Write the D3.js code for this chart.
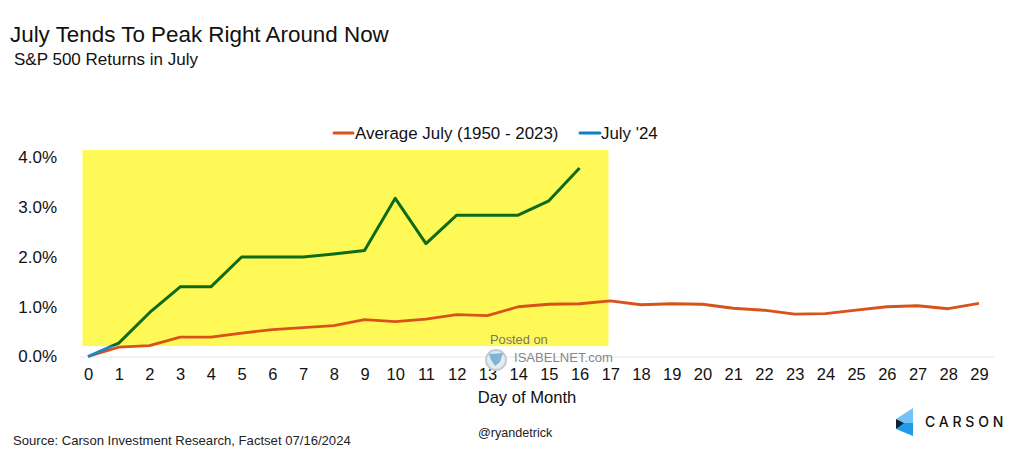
<!DOCTYPE html>
<html>
<head>
<meta charset="utf-8">
<script src="https://cdnjs.cloudflare.com/ajax/libs/d3/7.8.5/d3.min.js"></script>
<style>
  html, body { margin: 0; padding: 0; background: #fff; }
  text { font-family: "Liberation Sans", Arial, sans-serif; fill: #111; }
</style>
</head>
<body>
<div id="visualization"></div>
<script>
// Values (percent return by day of month).
const days = d3.range(0, 30);
const averageJuly = [0, 0.19, 0.22, 0.39, 0.39, 0.47, 0.54, 0.58, 0.62, 0.74, 0.70, 0.75, 0.84, 0.82, 1.00,
  1.05, 1.06, 1.12, 1.04, 1.06, 1.05, 0.97, 0.93, 0.85, 0.86, 0.93, 1.00, 1.02, 0.96, 1.07];
const july24 = [0, 0.27, 0.88, 1.40, 1.40, 2.00, 2.00, 2.00, 2.06, 2.13, 3.18, 2.27, 2.84, 2.84, 2.84, 3.13, 3.79];
const yTicks = [0, 1, 2, 3, 4];
const highlightDays = [-0.18, 16.94];
const highlightValues = [0.21, 4.15];

const totalWidth = 1024;
const totalHeight = 470;

const svg = d3.select("#visualization")
  .append("svg")
  .attr("width", totalWidth)
  .attr("height", totalHeight)
  .style("display", "block");

// Scales
const x = d3.scaleLinear().domain([0, 29]).range([88, 979]);
const y = d3.scaleLinear().domain([0, 4]).range([356.5, 157.5]);

const line = d3.line().x((d, i) => x(i)).y(d => y(d));

// Titles
svg.append("text").attr("x", 10).attr("y", 42).style("font-size", "22.4px").text("July Tends To Peak Right Around Now");
svg.append("text").attr("x", 14).attr("y", 65).style("font-size", "17px").text("S&P 500 Returns in July");

// Yellow highlight box
const boxX = x(highlightDays[0]), boxW = x(highlightDays[1]) - boxX;
const boxY = y(highlightValues[1]), boxH = y(highlightValues[0]) - boxY;
svg.append("rect")
  .attr("x", boxX).attr("y", boxY).attr("width", boxW).attr("height", boxH)
  .attr("fill", "#fff957");

// The July '24 line turns green where it crosses the highlight, blue outside it
const defs = svg.append("defs");
defs.append("clipPath").attr("id", "inBox").append("rect")
  .attr("x", boxX).attr("y", boxY).attr("width", boxW).attr("height", boxH);
defs.append("clipPath").attr("id", "outBox").append("rect")
  .attr("x", 0).attr("y", boxY + boxH).attr("width", totalWidth).attr("height", totalHeight);

// Axes
const xAxis = svg.append("g")
  .attr("transform", `translate(0, ${y(0)})`)
  .call(d3.axisBottom(x).tickValues(days).tickFormat(d3.format("d")).tickSize(0).tickPadding(12));
xAxis.select(".domain").attr("stroke", "#e6e6e6").attr("d", "M80,0.5H994");
xAxis.selectAll("text").style("font-size", "16.5px").style("font-family", "'Liberation Sans', Arial, sans-serif").attr("fill", "#111");

const yAxis = svg.append("g")
  .attr("transform", "translate(57, 0)")
  .call(d3.axisLeft(y).tickValues(yTicks).tickFormat(d => d.toFixed(1) + "%").tickSize(0).tickPadding(0));
yAxis.select(".domain").remove();
yAxis.selectAll("text").style("font-size", "17px").style("font-family", "'Liberation Sans', Arial, sans-serif").attr("fill", "#111");

svg.append("text").attr("x", 527).attr("y", 403).attr("text-anchor", "middle").style("font-size", "16.6px").text("Day of Month");

// Lines
svg.append("path").datum(averageJuly).attr("d", line)
  .attr("fill", "none").attr("stroke", "#d8531a").attr("stroke-width", 2.8).attr("stroke-linejoin", "round");
svg.append("path").datum(july24).attr("d", line).attr("clip-path", "url(#inBox)")
  .attr("fill", "none").attr("stroke", "#0f6b16").attr("stroke-width", 3).attr("stroke-linejoin", "round");
svg.append("path").datum(july24).attr("d", line).attr("clip-path", "url(#outBox)")
  .attr("fill", "none").attr("stroke", "#1a86c4").attr("stroke-width", 3);

// Legend
const legendItems = [
  {label: "Average July (1950 - 2023)", color: "#d8531a", x1: 334, x2: 353, tx: 355},
  {label: "July '24", color: "#0a82c6", x1: 580, x2: 600, tx: 601}
];
const legend = svg.append("g").selectAll("g").data(legendItems).join("g");
legend.append("line").attr("x1", d => d.x1).attr("x2", d => d.x2).attr("y1", 133).attr("y2", 133)
  .attr("stroke", d => d.color).attr("stroke-width", 3).attr("stroke-linecap", "round");
legend.append("text").attr("x", d => d.tx).attr("y", 139).style("font-size", "16.9px").text(d => d.label);

// Watermark
svg.append("text").attr("x", 490).attr("y", 344).style("font-size", "12.8px").style("fill", "#77776a").text("Posted on");
svg.append("circle").attr("cx", 496).attr("cy", 360).attr("r", 10).attr("fill", "#e6ebee").attr("stroke", "#c4ccd2").attr("stroke-width", 2);
svg.append("path").attr("d", "M489,354L503,353L500,362L495,366L491,360Z").attr("fill", "#7db4dc");
svg.append("text").attr("x", 514).attr("y", 362).style("font-size", "13.1px").style("fill", "#85888c").text("ISABELNET.com");

// Footer
svg.append("text").attr("x", 13).attr("y", 445).style("font-size", "13.1px").style("fill", "#222").text("Source: Carson Investment Research, Factset 07/16/2024");
svg.append("text").attr("x", 478).attr("y", 437).style("font-size", "12.6px").style("fill", "#222").text("@ryandetrick");

// Carson logo
const logo = svg.append("g");
logo.append("path").attr("d", "M913,408V423H904L896,419Z").attr("fill", "#74c3f5");
logo.append("path").attr("d", "M896,419L906,424L896,429Z").attr("fill", "#0d2233");
logo.append("path").attr("d", "M896,429L904,423H913V436Z").attr("fill", "#1f9be8");
svg.append("text").attr("x", 925).attr("y", 427).style("font-size", "14px").style("letter-spacing", "3.8px").style("font-family", "Inter, sans-serif").style("font-weight", 500).text("CARSON");
</script>
</body>
</html>
